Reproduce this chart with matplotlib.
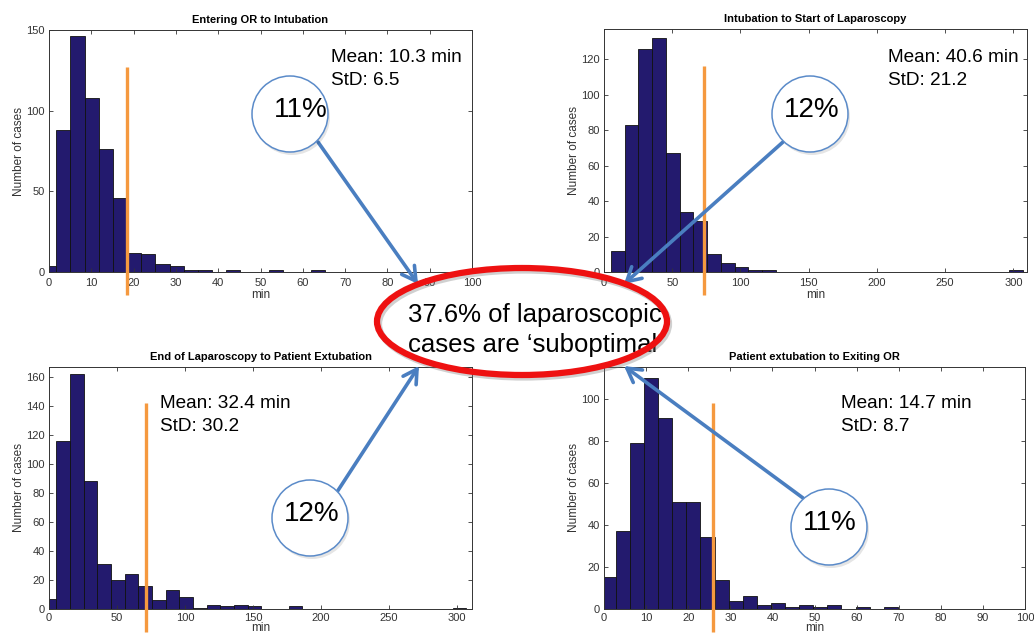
import numpy as np
import matplotlib
matplotlib.use('Agg')
import matplotlib.pyplot as plt
from matplotlib.patches import Circle, Ellipse, FancyArrowPatch

plt.rcParams['font.family'] = ['Liberation Sans', 'DejaVu Sans']

# --- data (histogram counts) ---
titles = ['Entering OR to Intubation', 'Intubation to Start of Laparoscopy',
          'End of Laparoscopy to Patient Extubation', 'Patient extubation to Exiting OR']

# bin start edges and bin widths
bin_start = [-1.65, 5.1, -4.6, -0.55]
bin_width = [3.35, 10.07, 10.05, 3.35]

counts_or_intub = [4, 88, 146, 108, 76, 46, 12, 11, 5, 4, 1, 1, 0, 1, 0, 0, 1, 0, 0, 1]
counts_intub_lap = [12, 83, 126, 132, 67, 34, 29, 10, 5, 3, 1, 1, 0, 0, 0, 0, 0, 0, 0, 0,
                    0, 0, 0, 0, 0, 0, 0, 0, 0, 1]
counts_lap_extub = [7, 116, 162, 88, 31, 20, 24, 16, 6, 13, 8, 1, 3, 2, 3, 2, 0, 0, 2, 0,
                    0, 0, 0, 0, 0, 0, 0, 0, 0, 0, 1]
counts_extub_exit = [15, 37, 79, 110, 91, 51, 51, 34, 14, 4, 6, 2, 3, 1, 2, 1, 2, 0, 1, 0, 1]
all_counts = [counts_or_intub, counts_intub_lap, counts_lap_extub, counts_extub_exit]

means = [10.3, 40.6, 32.4, 14.7]
stds = [6.5, 21.2, 30.2, 8.7]
threshold = [18.4, 73.4, 71.1, 26.0]      # orange cut-off lines
thr_top = [127, 116, 142, 98]
pct_labels = ['11%', '12%', '12%', '11%']
summary_lines = ['37.6% of laparoscopic', 'cases are \u2018suboptimal\u2019']

xlims = [(0, 100), (0, 310), (0, 311), (0, 100)]
ylims = [(0, 150), (0, 137), (0, 167), (0, 115)]
xticks = [np.arange(0, 101, 10), np.arange(0, 301, 50), np.arange(0, 301, 50), np.arange(0, 101, 10)]
yticks = [[0, 50, 100, 150], np.arange(0, 121, 20), np.arange(0, 161, 20), np.arange(0, 101, 20)]

W, H = 1034, 637
fig = plt.figure(figsize=(W / 100, H / 100), dpi=100)

# axes boxes in pixels: left, top, right, bottom
boxes = [(49, 30, 472, 272), (604, 29, 1027, 272), (49, 367, 472, 609), (604, 367, 1025, 609)]
# mean/std text: left x and first baseline y, in pixels
stat_pos = [(331, 62), (888, 62), (160, 408), (841, 408)]

bar_color = '#231a6e'
orange = '#f5993f'

for i in range(4):
    l, t, r, b = boxes[i]
    ax = fig.add_axes([l / W, 1 - b / H, (r - l) / W, (b - t) / H])
    c = all_counts[i]
    edges = bin_start[i] + bin_width[i] * np.arange(len(c))
    ax.bar(edges, c, width=bin_width[i], align='edge', color=bar_color,
           edgecolor='#111111', linewidth=0.6)
    ax.set_xlim(*xlims[i])
    ax.set_ylim(*ylims[i])
    ax.set_xticks(xticks[i])
    ax.set_yticks(yticks[i])
    ax.tick_params(direction='in', top=True, right=True, length=3, width=0.6,
                   labelsize=8, colors='#333333')
    ax.tick_params(axis='x', pad=4 if i < 2 else 3)
    ax.tick_params(axis='y', pad=3)
    for s in ax.spines.values():
        s.set_color('#333333')
        s.set_linewidth(0.7)
    ax.set_title(titles[i], fontsize=8, fontweight='bold', pad=5)
    ax.set_xlabel('min', fontsize=8.5, color='#333333', labelpad=1 if i < 2 else -1)
    ax.set_ylabel('Number of cases', fontsize=8.5, color='#333333', labelpad=1)
    # orange cut-off line, runs past the axis bottom
    lo = -23 / ((b - t) / (ylims[i][1] - ylims[i][0]))
    ax.plot([threshold[i], threshold[i]], [lo, thr_top[i]], color=orange, lw=2.4,
            clip_on=False, zorder=5, solid_capstyle='butt')

# overlay for callouts, in pixel coordinates
ov = fig.add_axes([0, 0, 1, 1])
ov.set_xlim(0, W)
ov.set_ylim(H, 0)
ov.axis('off')
ov.patch.set_alpha(0)

for k, (x, y) in enumerate(stat_pos):
    ov.text(x, y, 'Mean: %.1f min' % means[k], fontsize=13.7, va='baseline', ha='left')
    ov.text(x, y + 22.6, 'StD: %.1f' % stds[k], fontsize=13.7, va='baseline', ha='left')

circ = [(290, 114), (810, 114), (310, 518), (829, 527)]
txt_off = [(11, -4), (2, -4), (2, -4), (1, -4)]
arrows = [((318, 142), (418, 284)), ((783, 142), (624, 284)),
          ((337, 492), (419, 366)), ((803, 498), (624, 366))]
arrow_col = '#4a7ec0'

for k in range(4):
    (x0, y0), (x1, y1) = arrows[k]
    ov.add_patch(FancyArrowPatch((x0, y0), (x1, y1), arrowstyle='->,head_length=0.7,head_width=0.4',
                                 color=arrow_col, lw=2.6, mutation_scale=14, zorder=3,
                                 shrinkA=0, shrinkB=0))
    cx, cy = circ[k]
    ov.add_patch(Circle((cx + 2, cy + 3), 38, facecolor='#000000', alpha=0.10,
                        edgecolor='none', zorder=3.5))
    ov.add_patch(Circle((cx, cy), 38, facecolor='white', edgecolor='#5b8bc9', lw=1.1, zorder=4))
    ov.text(cx + txt_off[k][0], cy + txt_off[k][1], pct_labels[k], fontsize=20,
            ha='center', va='center', zorder=5)

ov.text(408, 322, summary_lines[0], fontsize=18.5, ha='left', va='baseline', zorder=6)
ov.text(408, 352, summary_lines[1], fontsize=18.5, ha='left', va='baseline', zorder=6)
ov.add_patch(Ellipse((524, 324), 290, 107, facecolor='none', edgecolor='#7a7a7a', alpha=0.35,
                     lw=4.5, zorder=6.5))
ov.add_patch(Ellipse((522, 321.5), 290, 107, facecolor='none', edgecolor='#ee1111',
                     lw=4.5, zorder=7))

fig.savefig('out.png', dpi=100)
